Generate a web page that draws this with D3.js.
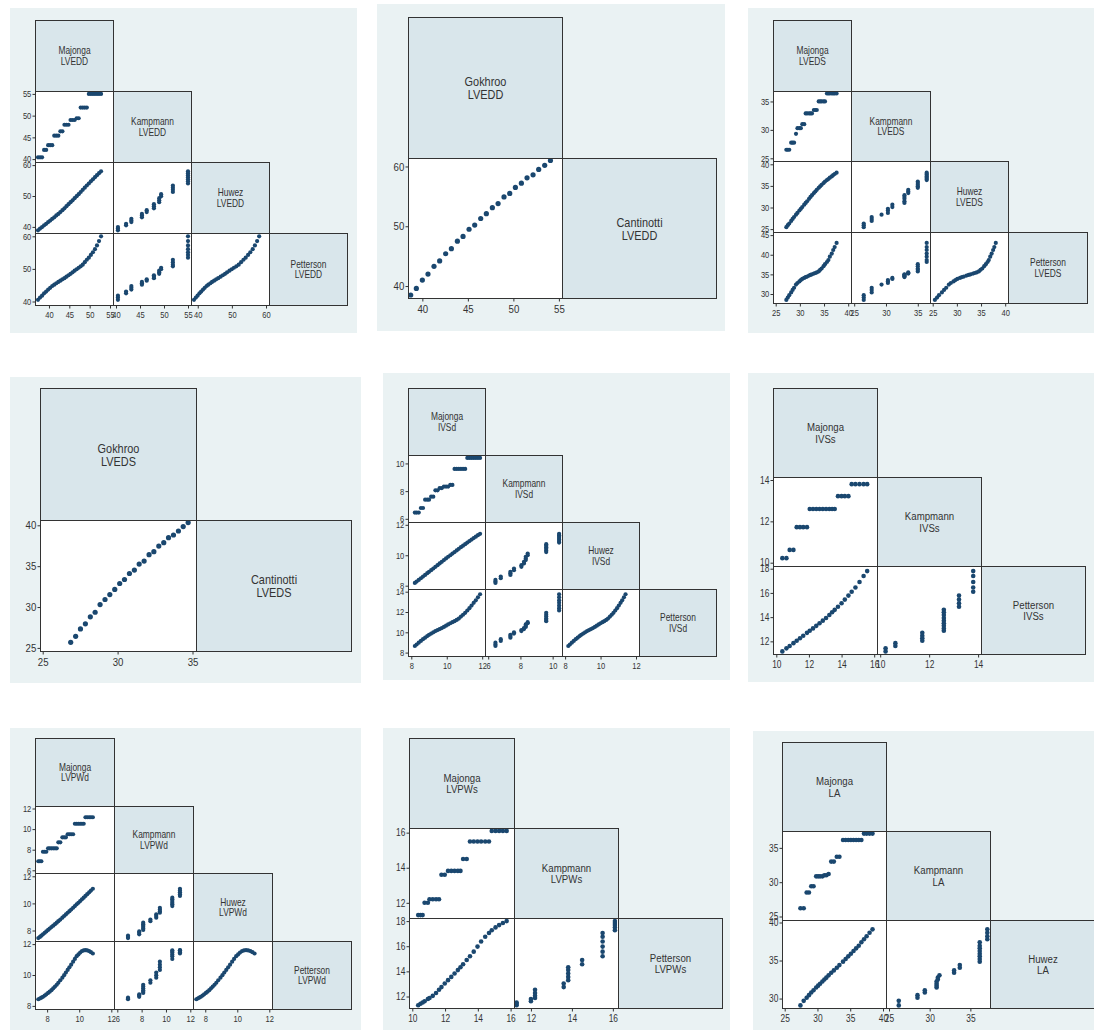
<!DOCTYPE html>
<html>
<head>
<meta charset="utf-8">
<script src="https://cdn.jsdelivr.net/npm/d3@7"></script>
<style>
  body { margin: 0; background: #ffffff; }
  svg { display: block; }
</style>
</head>
<body>
<svg id="chart" width="1094" height="1030"></svg>
<script>
// ---------------- LVEDD: four z-score equations ----------------
const lveddMajonga   = [37.3, 37.8, 38.3, 38.8, 39.3, 39.8, 40.3, 40.8, 41.3, 41.8, 42.3, 42.8, 43.3, 43.8, 44.3, 44.8, 45.3, 45.8, 46.3, 46.8, 47.3, 47.8, 48.3, 48.8, 49.3, 49.8, 50.3, 50.8, 51.3, 51.8, 52.3, 52.8];
const lveddKampmann  = [40.4, 40.4, 40.4, 42.1, 42.1, 43.2, 43.2, 43.2, 45.4, 45.4, 45.4, 46.4, 46.4, 47.9, 47.9, 47.9, 49.0, 49.0, 49.0, 49.4, 49.4, 51.85, 51.85, 51.85, 51.85, 55.0, 55.0, 55.0, 55.0, 55.0, 55.0, 55.0];
const lveddHuwez     = [38.9, 39.45, 39.95, 40.5, 41.0, 41.55, 42.05, 42.6, 43.1, 43.7, 44.2, 44.8, 45.4, 46.0, 46.7, 47.35, 48.0, 48.6, 49.3, 49.95, 50.6, 51.3, 52.0, 52.7, 53.4, 54.05, 54.75, 55.4, 56.1, 56.75, 57.4, 58.0];
const lveddPetterson = [40.5, 41.2, 41.8, 42.5, 43.05, 43.65, 44.2, 44.75, 45.15, 45.6, 46.0, 46.4, 46.8, 47.15, 47.6, 48.05, 48.5, 48.95, 49.45, 49.9, 50.35, 50.8, 51.3, 52.05, 52.8, 53.45, 54.3, 55.1, 56.05, 57.2, 58.55, 60.0];
const lveddTicksMajonga   = [40, 45, 50, 55];
const lveddTicksKampmann  = [40, 45, 50, 55];
const lveddTicksHuwez     = [40, 50, 60];
const lveddTicksPetterson = [40, 50, 60];

// ---------------- LVEDD: Gokhroo vs Cantinotti ----------------
const lveddGokhroo    = [38.72, 39.34, 40.0, 40.62, 41.28, 41.9, 42.56, 43.19, 43.85, 44.47, 45.13, 45.75, 46.41, 47.03, 47.69, 48.32, 48.97, 49.6, 50.22, 50.88, 51.5, 52.16, 52.78, 53.44, 54.07];
const lveddCantinotti = [38.5, 39.6, 41.0, 42.0, 43.3, 44.2, 45.4, 46.25, 47.5, 48.3, 49.5, 50.2, 51.3, 52.1, 53.1, 53.8, 54.9, 55.5, 56.5, 57.2, 58.1, 58.6, 59.5, 60.2, 61.0];
const lveddTicksGokhroo    = [40, 45, 50, 55];
const lveddTicksCantinotti = [40, 50, 60];

// ---------------- LVEDS: four z-score equations ----------------
const lvedsMajonga   = [27.2, 27.5, 27.8, 28.2, 28.5, 28.8, 29.2, 29.5, 29.9, 30.2, 30.5, 30.9, 31.2, 31.5, 31.9, 32.2, 32.5, 32.9, 33.2, 33.5, 33.9, 34.2, 34.5, 34.9, 35.2, 35.6, 35.9, 36.2, 36.6, 36.9, 37.2, 37.6];
const lvedsKampmann  = [26.5, 26.5, 26.5, 27.75, 27.75, 27.75, 29.3, 30.3, 30.3, 30.3, 31.0, 31.0, 32.9, 32.9, 32.9, 32.9, 32.9, 33.5, 33.5, 33.5, 35.0, 35.0, 35.0, 35.0, 35.0, 36.4, 36.4, 36.4, 36.4, 36.4, 36.4, 36.4];
const lvedsHuwez     = [25.45, 25.9, 26.3, 26.9, 27.35, 27.8, 28.35, 28.75, 29.3, 29.7, 30.1, 30.65, 31.05, 31.45, 32.0, 32.45, 32.85, 33.35, 33.7, 34.1, 34.55, 34.9, 35.25, 35.65, 36.0, 36.35, 36.6, 36.9, 37.2, 37.5, 37.75, 38.05];
const lvedsPetterson = [28.5, 29.1, 29.7, 30.4, 31.05, 31.6, 32.4, 32.8, 33.2, 33.55, 33.85, 34.1, 34.3, 34.45, 34.7, 34.85, 35.0, 35.2, 35.35, 35.5, 35.75, 36.15, 36.5, 37.1, 37.6, 38.15, 38.65, 39.5, 40.3, 41.2, 41.95, 43.0];
const lvedsTicksMajonga   = [25, 30, 35, 40];
const lvedsTicksKampmann  = [25, 30, 35];
const lvedsTicksHuwez     = [25, 30, 35, 40];
const lvedsTicksPetterson = [30, 35, 40, 45];

// ---------------- LVEDS: Gokhroo vs Cantinotti ----------------
const lvedsGokhroo    = [26.87, 27.2, 27.52, 27.85, 28.18, 28.5, 28.83, 29.16, 29.48, 29.81, 30.14, 30.46, 30.79, 31.12, 31.44, 31.77, 32.1, 32.42, 32.75, 33.08, 33.4, 33.73, 34.06, 34.38, 34.71];
const lvedsCantinotti = [25.68, 26.42, 27.32, 27.94, 28.8, 29.36, 30.3, 30.92, 31.53, 32.15, 32.88, 33.37, 34.1, 34.52, 35.25, 35.62, 36.4, 36.77, 37.46, 37.87, 38.49, 38.81, 39.3, 39.84, 40.33];
const lvedsTicksGokhroo    = [25, 30, 35];
const lvedsTicksCantinotti = [25, 30, 35, 40];

// ---------------- IVSd ----------------
const ivsdMajonga   = [8.2, 8.3, 8.42, 8.54, 8.66, 8.78, 8.9, 9.0, 9.12, 9.24, 9.36, 9.48, 9.6, 9.72, 9.84, 9.96, 10.08, 10.2, 10.32, 10.44, 10.56, 10.68, 10.8, 10.92, 11.04, 11.16, 11.28, 11.4, 11.52, 11.64, 11.76, 11.88];
const ivsdKampmann  = [6.45, 6.45, 6.45, 6.78, 6.78, 7.38, 7.38, 7.38, 7.6, 7.6, 8.06, 8.06, 8.22, 8.22, 8.33, 8.33, 8.33, 8.45, 8.45, 9.6, 9.6, 9.6, 9.6, 9.6, 9.6, 10.4, 10.4, 10.4, 10.4, 10.4, 10.4, 10.4];
const ivsdHuwez     = [8.18, 8.27, 8.38, 8.49, 8.6, 8.71, 8.82, 8.91, 9.02, 9.13, 9.24, 9.35, 9.46, 9.57, 9.68, 9.79, 9.9, 10.0, 10.11, 10.21, 10.32, 10.42, 10.53, 10.63, 10.73, 10.83, 10.93, 11.03, 11.13, 11.22, 11.32, 11.41];
const ivsdPetterson = [8.65, 8.8, 8.98, 9.15, 9.32, 9.47, 9.63, 9.75, 9.87, 10.0, 10.12, 10.22, 10.32, 10.42, 10.53, 10.65, 10.78, 10.89, 11.0, 11.1, 11.22, 11.35, 11.55, 11.73, 11.92, 12.15, 12.38, 12.63, 12.9, 13.15, 13.45, 13.75];
const ivsdTicksMajonga   = [8, 10, 12];
const ivsdTicksKampmann  = [6, 8, 10];
const ivsdTicksHuwez     = [8, 10, 12];
const ivsdTicksPetterson = [8, 10, 12, 14];

// ---------------- IVSs ----------------
const ivssMajonga   = [10.37, 10.62, 10.82, 11.05, 11.25, 11.45, 11.65, 11.88, 12.05, 12.25, 12.45, 12.65, 12.85, 13.05, 13.25, 13.42, 13.58, 13.78, 14.0, 14.2, 14.42, 14.62, 14.85, 15.1, 15.35, 15.57];
const ivssKampmann  = [10.22, 10.22, 10.62, 10.62, 11.72, 11.72, 11.72, 11.72, 12.6, 12.6, 12.6, 12.6, 12.6, 12.6, 12.6, 12.6, 12.6, 13.22, 13.22, 13.22, 13.22, 13.8, 13.8, 13.8, 13.8, 13.8];
const ivssPetterson = [11.17, 11.42, 11.62, 11.85, 12.05, 12.25, 12.46, 12.7, 12.87, 13.07, 13.28, 13.5, 13.71, 13.93, 14.17, 14.4, 14.6, 14.86, 15.15, 15.45, 15.78, 16.1, 16.45, 16.9, 17.4, 17.8];
const ivssTicksMajonga   = [10, 12, 14, 16];
const ivssTicksKampmann  = [10, 12, 14];
const ivssTicksPetterson = [12, 14, 16, 18];

// ---------------- LVPWd ----------------
const lvpwdMajonga   = [7.45, 7.55, 7.64, 7.74, 7.85, 7.95, 8.06, 8.16, 8.27, 8.38, 8.49, 8.6, 8.7, 8.82, 8.95, 9.06, 9.17, 9.28, 9.39, 9.5, 9.62, 9.73, 9.84, 9.95, 10.06, 10.17, 10.28, 10.39, 10.5, 10.62, 10.73, 10.85];
const lvpwdKampmann  = [6.88, 6.88, 6.88, 7.8, 7.8, 7.8, 8.13, 8.13, 8.13, 8.13, 8.13, 8.13, 8.72, 8.72, 9.2, 9.2, 9.2, 9.5, 9.5, 9.5, 9.5, 10.52, 10.52, 10.52, 10.52, 10.52, 10.52, 11.15, 11.15, 11.15, 11.15, 11.15];
const lvpwdHuwez     = [7.44, 7.53, 7.62, 7.72, 7.83, 7.93, 8.04, 8.14, 8.25, 8.36, 8.47, 8.58, 8.69, 8.81, 8.95, 9.07, 9.19, 9.31, 9.43, 9.55, 9.68, 9.8, 9.93, 10.05, 10.17, 10.3, 10.42, 10.55, 10.68, 10.82, 10.95, 11.08];
const lvpwdPetterson = [8.43, 8.48, 8.53, 8.59, 8.67, 8.75, 8.84, 8.92, 9.02, 9.14, 9.25, 9.37, 9.5, 9.66, 9.83, 9.99, 10.16, 10.33, 10.5, 10.67, 10.86, 11.04, 11.22, 11.33, 11.45, 11.55, 11.59, 11.61, 11.59, 11.55, 11.48, 11.39];
const lvpwdTicksMajonga   = [8, 10, 12];
const lvpwdTicksKampmann  = [6, 8, 10, 12];
const lvpwdTicksHuwez     = [8, 10, 12];
const lvpwdTicksPetterson = [8, 10, 12];

// ---------------- LVPWs ----------------
const lvpwsMajonga   = [10.36, 10.5, 10.63, 10.75, 10.95, 11.05, 11.25, 11.45, 11.63, 11.78, 11.98, 12.18, 12.38, 12.58, 12.78, 12.94, 13.1, 13.32, 13.52, 13.75, 13.98, 14.2, 14.45, 14.68, 14.85, 15.08, 15.3, 15.53, 15.76];
const lvpwsKampmann  = [11.3, 11.3, 11.3, 12.0, 12.0, 12.2, 12.2, 12.2, 12.2, 13.6, 13.6, 13.82, 13.82, 13.82, 13.82, 13.82, 14.5, 14.5, 15.5, 15.5, 15.5, 15.5, 15.5, 15.5, 16.1, 16.1, 16.1, 16.1, 16.1];
const lvpwsPetterson = [11.3, 11.42, 11.52, 11.62, 11.8, 11.88, 12.05, 12.28, 12.54, 12.75, 13.03, 13.3, 13.56, 13.83, 14.1, 14.33, 14.57, 14.9, 15.2, 15.57, 15.97, 16.38, 16.75, 17.05, 17.27, 17.5, 17.68, 17.85, 18.0];
const lvpwsTicksMajonga   = [10, 12, 14, 16];
const lvpwsTicksKampmann  = [12, 14, 16];
const lvpwsTicksPetterson = [12, 14, 16, 18];

// ---------------- LA ----------------
const laMajonga  = [27.4, 27.9, 28.35, 28.7, 29.05, 29.4, 29.8, 30.1, 30.4, 30.75, 31.05, 31.35, 31.7, 32.1, 32.5, 32.95, 33.35, 33.9, 34.3, 34.7, 35.1, 35.5, 35.9, 36.3, 36.7, 37.1, 37.5, 37.95, 38.4];
const laKampmann = [26.2, 26.2, 28.5, 28.5, 29.4, 29.4, 30.85, 30.85, 30.85, 30.85, 31.0, 31.0, 31.2, 33.0, 33.0, 33.7, 33.7, 36.15, 36.15, 36.15, 36.15, 36.15, 36.15, 36.15, 36.15, 37.08, 37.08, 37.08, 37.08];
const laHuwez    = [29.1, 29.7, 30.1, 30.45, 30.8, 31.1, 31.45, 31.7, 31.95, 32.25, 32.5, 32.75, 33.05, 33.4, 33.7, 34.05, 34.4, 34.85, 35.2, 35.55, 35.9, 36.25, 36.6, 36.95, 37.4, 37.8, 38.2, 38.65, 39.1];
const laTicksMajonga  = [25, 30, 35, 40];
const laTicksKampmann = [25, 30, 35];
const laTicksHuwez    = [30, 35, 40];

// ---------------- drawing ----------------
const svg = d3.select("#chart");
const FONT = "'Liberation Sans', Arial, Helvetica, sans-serif";
const FRAME = "#333333";
const MARKER = "#1a476f";
const REGION = "#eaf2f3";
const DIAG = "#d9e6eb";
const SQUEEZE = 0.84;   // narrow the type a little, as in the original graphs

const SMALL  = { r: 2.1, label: 10,   tick: 9 };
const MEDIUM = { r: 2.3, label: 11.5, tick: 10 };
const LARGE  = { r: 2.6, label: 13,   tick: 11.5 };

function variable(name, values, ticks) { return { name, values, ticks }; }

function styleAxis(ax, size) {
  ax.attr("font-family", FONT).attr("font-size", size);
  ax.select(".domain").remove();
  ax.selectAll(".tick line").attr("stroke", FRAME);
  ax.selectAll(".tick text").attr("fill", "#333").attr("transform", `scale(${SQUEEZE},1)`);
}

// Lower-triangle scatter-plot matrix: labelled boxes on the diagonal,
// pairwise scatters below, y axes on the left, x axes along the bottom.
function drawMatrix(vars, measure, layout, style) {
  const { x0, y0, w, h, bg } = layout;
  const n = vars.length;
  const pad = 3;
  const g = svg.append("g");

  g.append("rect")
    .attr("x", bg[0]).attr("y", bg[1]).attr("width", bg[2]).attr("height", bg[3])
    .attr("fill", REGION);

  const domains = vars.map(v => d3.extent(v.values.concat(v.ticks)));
  const sx = domains.map((d, i) => d3.scaleLinear().domain(d).range([x0 + i * w + pad, x0 + (i + 1) * w - pad]));
  const sy = domains.map((d, i) => d3.scaleLinear().domain(d).range([y0 + (i + 1) * h - pad, y0 + i * h + pad]));
  const edgeX = i => Math.round(x0 + i * w) + 0.5;
  const edgeY = i => Math.round(y0 + i * h) + 0.5;
  const count = vars[0].values.length;

  for (let r = 0; r < n; r++) {
    for (let c = 0; c <= r; c++) {
      const cell = g.append("g");
      const left = edgeX(c), top = edgeY(r);
      const cw = edgeX(c + 1) - left, ch = edgeY(r + 1) - top;
      if (r === c) {
        cell.append("rect")
          .attr("x", left).attr("y", top).attr("width", cw).attr("height", ch)
          .attr("fill", DIAG).attr("stroke", FRAME).attr("stroke-width", 1);
        const f = style.label, gap = f * 1.02;
        const first = top + ch / 2 + (0.716 * f - gap) / 2;
        const lbl = cell.append("g")
          .attr("transform", `translate(${left + cw / 2},0) scale(${SQUEEZE},1)`)
          .attr("font-family", FONT).attr("font-size", f).attr("fill", "#333")
          .attr("text-anchor", "middle");
        lbl.append("text").attr("x", 0).attr("y", first).text(vars[c].name);
        lbl.append("text").attr("x", 0).attr("y", first + gap).text(measure);
      } else {
        cell.append("rect")
          .attr("x", left).attr("y", top).attr("width", cw).attr("height", ch)
          .attr("fill", "#ffffff");
        cell.selectAll("circle")
          .data(d3.range(count))
          .join("circle")
          .attr("cx", i => sx[c](vars[c].values[i]))
          .attr("cy", i => sy[r](vars[r].values[i]))
          .attr("r", style.r)
          .attr("fill", MARKER);
        cell.append("rect")
          .attr("x", left).attr("y", top).attr("width", cw).attr("height", ch)
          .attr("fill", "none").attr("stroke", FRAME).attr("stroke-width", 1);
      }
    }
  }

  for (let r = 1; r < n; r++) {
    const ax = g.append("g")
      .attr("transform", `translate(${edgeX(0)},0)`)
      .call(d3.axisLeft(sy[r]).tickValues(vars[r].ticks).tickSize(3).tickPadding(2).tickFormat(d3.format("d")));
    styleAxis(ax, style.tick);
  }
  for (let c = 0; c < n - 1; c++) {
    const ax = g.append("g")
      .attr("transform", `translate(0,${edgeY(n)})`)
      .call(d3.axisBottom(sx[c]).tickValues(vars[c].ticks).tickSize(3).tickPadding(3).tickFormat(d3.format("d")));
    styleAxis(ax, style.tick);
  }
}

// Row 1
drawMatrix([
  variable("Majonga", lveddMajonga, lveddTicksMajonga),
  variable("Kampmann", lveddKampmann, lveddTicksKampmann),
  variable("Huwez", lveddHuwez, lveddTicksHuwez),
  variable("Petterson", lveddPetterson, lveddTicksPetterson)
], "LVEDD", { x0: 35, y0: 19.7, w: 78, h: 71.2, bg: [10, 8, 347, 325] }, SMALL);

drawMatrix([
  variable("Gokhroo", lveddGokhroo, lveddTicksGokhroo),
  variable("Cantinotti", lveddCantinotti, lveddTicksCantinotti)
], "LVEDD", { x0: 407.7, y0: 17, w: 154.2, h: 140.5, bg: [377, 4, 348, 327] }, LARGE);

drawMatrix([
  variable("Majonga", lvedsMajonga, lvedsTicksMajonga),
  variable("Kampmann", lvedsKampmann, lvedsTicksKampmann),
  variable("Huwez", lvedsHuwez, lvedsTicksHuwez),
  variable("Petterson", lvedsPetterson, lvedsTicksPetterson)
], "LVEDS", { x0: 772.7, y0: 19.7, w: 78.5, h: 70.8, bg: [748, 8, 346, 325] }, SMALL);

// Row 2
drawMatrix([
  variable("Gokhroo", lvedsGokhroo, lvedsTicksGokhroo),
  variable("Cantinotti", lvedsCantinotti, lvedsTicksCantinotti)
], "LVEDS", { x0: 39.7, y0: 388.3, w: 155.8, h: 131.3, bg: [10, 377, 351, 306] }, LARGE);

drawMatrix([
  variable("Majonga", ivsdMajonga, ivsdTicksMajonga),
  variable("Kampmann", ivsdKampmann, ivsdTicksKampmann),
  variable("Huwez", ivsdHuwez, ivsdTicksHuwez),
  variable("Petterson", ivsdPetterson, ivsdTicksPetterson)
], "IVSd", { x0: 408.3, y0: 388, w: 76.9, h: 66.9, bg: [383, 373, 347, 307] }, SMALL);

drawMatrix([
  variable("Majonga", ivssMajonga, ivssTicksMajonga),
  variable("Kampmann", ivssKampmann, ivssTicksKampmann),
  variable("Petterson", ivssPetterson, ivssTicksPetterson)
], "IVSs", { x0: 773.3, y0: 388.3, w: 103.9, h: 88.7, bg: [748, 373, 346, 309] }, MEDIUM);

// Row 3
drawMatrix([
  variable("Majonga", lvpwdMajonga, lvpwdTicksMajonga),
  variable("Kampmann", lvpwdKampmann, lvpwdTicksKampmann),
  variable("Huwez", lvpwdHuwez, lvpwdTicksHuwez),
  variable("Petterson", lvpwdPetterson, lvpwdTicksPetterson)
], "LVPWd", { x0: 35.3, y0: 737.7, w: 79, h: 67.8, bg: [10, 728, 351, 302] }, SMALL);

drawMatrix([
  variable("Majonga", lvpwsMajonga, lvpwsTicksMajonga),
  variable("Kampmann", lvpwsKampmann, lvpwsTicksKampmann),
  variable("Petterson", lvpwsPetterson, lvpwsTicksPetterson)
], "LVPWs", { x0: 409.3, y0: 737.7, w: 104.3, h: 90.2, bg: [383, 728, 347, 302] }, MEDIUM);

drawMatrix([
  variable("Majonga", laMajonga, laTicksMajonga),
  variable("Kampmann", laKampmann, laTicksKampmann),
  variable("Huwez", laHuwez, laTicksHuwez)
], "LA", { x0: 781.7, y0: 741.7, w: 104.3, h: 88.9, bg: [753, 731, 341, 299] }, MEDIUM);
</script>
</body>
</html>
